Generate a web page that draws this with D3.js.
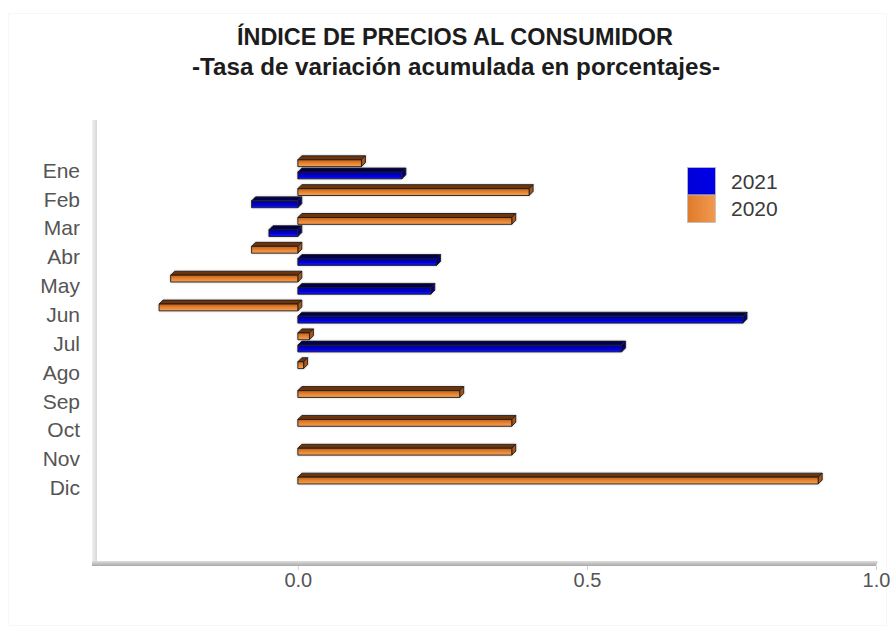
<!DOCTYPE html>
<html>
<head>
<meta charset="utf-8">
<script src="https://cdn.jsdelivr.net/npm/d3@7"></script>
<style>
  html, body { margin: 0; padding: 0; background: #ffffff; }
  svg { display: block; }
</style>
</head>
<body>
<div id="chart"></div>
<script>
// ---- DATA ----
const categories = ["Ene","Feb","Mar","Abr","May","Jun","Jul","Ago","Sep","Oct","Nov","Dic"];
const values2020 = [0.11, 0.40, 0.37, -0.08, -0.22, -0.24, 0.02, 0.01, 0.28, 0.37, 0.37, 0.90];
const values2021 = [0.18, -0.08, -0.05, 0.24, 0.23, 0.77, 0.56, null, null, null, null, null];
const seriesNames = ["2020", "2021"];
const legendNames = ["2021", "2020"];
const xTicks = [0.0, 0.5, 1.0];
const titleText = "ÍNDICE DE PRECIOS AL CONSUMIDOR";
const subtitleText = "-Tasa de variación acumulada en porcentajes-";

// ---- LAYOUT ----
const W = 894, H = 632;
const svg = d3.select("#chart").append("svg").attr("width", W).attr("height", H);

const defs = svg.append("defs");
const palette = {
  "2020": {stops: ["#c0601a", "#e8842f", "#f4a259"], top: "#6e3608", side: "#a8541a", legend: ["#e07a2a", "#f09a50"]},
  "2021": {stops: ["#00008c", "#0000cc", "#1212ff"], top: "#000050", side: "#00007a", legend: ["#0000d8", "#0000e8"]}
};
seriesNames.forEach(s => {
  const g = defs.append("linearGradient").attr("id", "front" + s).attr("x1", 0).attr("y1", 0).attr("x2", 0).attr("y2", 1);
  palette[s].stops.forEach((c, i) => g.append("stop").attr("offset", (i / 2 * 100) + "%").attr("stop-color", c));
  const lg = defs.append("linearGradient").attr("id", "leg" + s).attr("x1", 0).attr("y1", 0).attr("x2", 1).attr("y2", 0);
  lg.append("stop").attr("offset", "0%").attr("stop-color", palette[s].legend[0]);
  lg.append("stop").attr("offset", "100%").attr("stop-color", palette[s].legend[1]);
});
const f = defs.append("filter").attr("id", "halo").attr("x", "-10%").attr("y", "-50%").attr("width", "120%").attr("height", "200%");
f.append("feGaussianBlur").attr("in", "SourceAlpha").attr("stdDeviation", 1.1).attr("result", "b");
f.append("feComponentTransfer").attr("in", "b").attr("result", "b2")
  .append("feFuncA").attr("type", "linear").attr("slope", 0.45);
f.append("feFlood").attr("flood-color", "#808080").attr("result", "fl");
f.append("feComposite").attr("in", "fl").attr("in2", "b2").attr("operator", "in").attr("result", "sh");
const fm = f.append("feMerge");
fm.append("feMergeNode").attr("in", "sh");
fm.append("feMergeNode").attr("in", "SourceGraphic");

// faint outer frame
svg.append("rect").attr("x", 8.5).attr("y", 13.5).attr("width", 878).attr("height", 612)
  .attr("fill", "none").attr("stroke", "#f7f7f7");

// titles
const titleFont = "'Liberation Sans Narrow', 'Liberation Sans', Arial, sans-serif";
svg.append("text").attr("x", 455).attr("y", 45).attr("text-anchor", "middle")
  .attr("font-family", titleFont).attr("font-weight", "bold")
  .attr("font-size", 23).attr("fill", "#1c1c1c")
  .attr("textLength", 436).attr("lengthAdjust", "spacingAndGlyphs").text(titleText);
svg.append("text").attr("x", 456).attr("y", 75).attr("text-anchor", "middle")
  .attr("font-family", titleFont).attr("font-weight", "bold")
  .attr("font-size", 23).attr("fill", "#1c1c1c")
  .attr("textLength", 528).attr("lengthAdjust", "spacingAndGlyphs").text(subtitleText);

// scales
const x = d3.scaleLinear().domain([-0.356, 1.0]).range([92, 876]);
const step = 28.85;
const y = d3.scaleBand().domain(categories).range([154.9, 154.9 + step * categories.length]).padding(0);
const sub = d3.scaleBand().domain(seriesNames).range([0, y.bandwidth()]).paddingInner(0.44).paddingOuter(0.4);

// axes (3D-ish gray)
const axisG = svg.append("g");
const ag = defs.append("linearGradient").attr("id", "axL").attr("x1", 0).attr("y1", 0).attr("x2", 1).attr("y2", 0);
ag.append("stop").attr("offset", "0%").attr("stop-color", "#f0f0f0");
ag.append("stop").attr("offset", "100%").attr("stop-color", "#d6d6d6");
const ab = defs.append("linearGradient").attr("id", "axB").attr("x1", 0).attr("y1", 0).attr("x2", 0).attr("y2", 1);
ab.append("stop").attr("offset", "0%").attr("stop-color", "#dedede");
ab.append("stop").attr("offset", "100%").attr("stop-color", "#a8a8a8");
axisG.append("rect").attr("x", 92).attr("y", 120).attr("width", 5).attr("height", 446).attr("fill", "url(#axL)");
axisG.append("path").attr("d", `M92,561 L${x(1) + 2},561 L${x(1)},566 L92,566 Z`).attr("fill", "url(#axB)");

// x axis ticks and labels via d3 axis
const xAxis = d3.axisBottom(x).tickValues(xTicks).tickFormat(d3.format(".1f")).tickSize(4).tickPadding(3);
const xg = svg.append("g").attr("transform", "translate(0,566)").call(xAxis);
xg.select(".domain").remove();
xg.selectAll(".tick line").attr("stroke", "#d0d0d0");
xg.selectAll(".tick text").attr("font-family", "Liberation Sans, Arial, sans-serif")
  .attr("font-size", 20).attr("fill", "#555");

// y labels via d3 axis
const yAxis = d3.axisLeft(y).tickSize(0).tickPadding(0);
const yg = svg.append("g").attr("transform", "translate(80,0)").call(yAxis);
yg.select(".domain").remove();
yg.selectAll(".tick text").attr("font-family", "Liberation Sans, Arial, sans-serif")
  .attr("font-size", 21).attr("fill", "#555").attr("dy", "0.40em");

// bars
const rows = [];
categories.forEach((c, i) => {
  rows.push({cat: c, s: "2020", v: values2020[i]});
  rows.push({cat: c, s: "2021", v: values2021[i]});
});
const dx = 4, dy = 4;
const barG = svg.append("g").attr("filter", "url(#halo)");
rows.filter(d => d.v !== null).forEach(d => {
  const x0 = x(Math.min(0, d.v)), x1 = x(Math.max(0, d.v));
  const yt = y(d.cat) + sub(d.s), h = sub.bandwidth();
  const g = barG.append("g").attr("stroke", "#1a1a1a").attr("stroke-width", 0.9).attr("stroke-linejoin", "round");
  g.append("path").attr("d", `M${x0},${yt} L${x0 + dx},${yt - dy} L${x1 + dx},${yt - dy} L${x1},${yt} Z`)
    .attr("fill", palette[d.s].top);
  g.append("path").attr("d", `M${x1},${yt} L${x1 + dx},${yt - dy} L${x1 + dx},${yt + h - dy} L${x1},${yt + h} Z`)
    .attr("fill", palette[d.s].side);
  g.append("rect").attr("x", x0).attr("y", yt).attr("width", Math.max(0.5, x1 - x0)).attr("height", h)
    .attr("fill", `url(#front${d.s})`);
});

// legend
const legG = svg.append("g");
legendNames.forEach((s, i) => {
  legG.append("rect").attr("x", 687.5).attr("y", 167.5 + i * 27.5).attr("width", 28).attr("height", 27.5)
    .attr("fill", `url(#leg${s})`).attr("stroke", "#bdbdbd").attr("stroke-width", 0.8);
  legG.append("text").attr("x", 731).attr("y", 189 + i * 27).attr("font-family", "Liberation Sans, Arial, sans-serif")
    .attr("font-size", 21).attr("fill", "#3a3a3a").text(s);
});
</script>
</body>
</html>
